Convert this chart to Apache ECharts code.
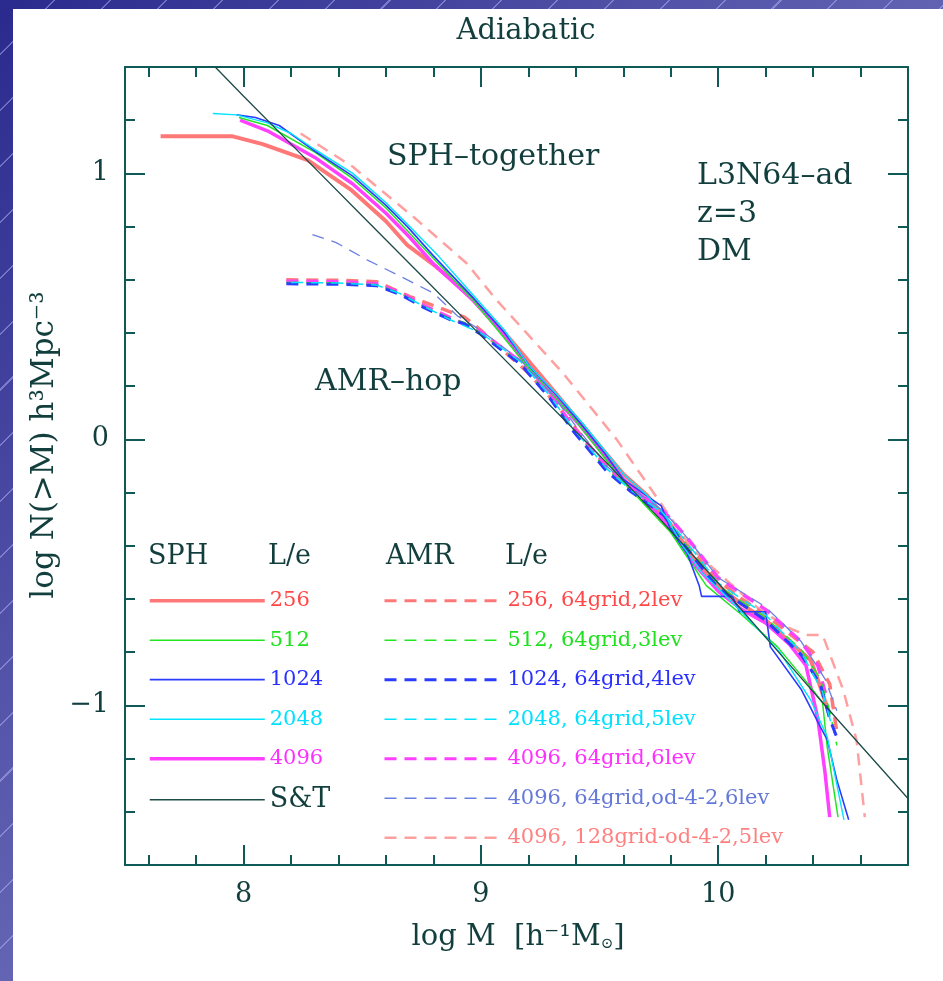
<!DOCTYPE html>
<html><head><meta charset="utf-8">
<script src="https://cdn.jsdelivr.net/npm/echarts@6/dist/echarts.min.js"></script>
<style>
html,body{margin:0;padding:0;}
body{width:943px;height:981px;overflow:hidden;position:relative;
background:
 repeating-linear-gradient(135deg, rgba(255,255,255,0) 0px, rgba(255,255,255,0) 38px, rgba(190,190,255,0.45) 38px, rgba(190,190,255,0.45) 39.5px),
 linear-gradient(135deg,#2a2a8e 0%,#5e5eb0 45%,#9494d0 100%);}
#panel{position:absolute;left:13px;top:9px;width:930px;height:972px;background:#fff;}
#chart{position:absolute;left:0;top:0;width:943px;height:981px;}
</style></head>
<body><div id="panel"></div><div id="chart"></div>
<script>
// ---- axis ranges / ticks ----
const xMin = 7.5, xMax = 10.8, yMin = -1.6, yMax = 1.4;
const xMajor = [8, 9, 10];
const xMinor = [7.6, 7.8, 8.2, 8.4, 8.6, 8.8, 9.2, 9.4, 9.6, 9.8, 10.2, 10.4, 10.6];
const yMajor = [-1, 0, 1];
const yMinor = [-1.4, -1.2, -0.8, -0.6, -0.4, -0.2, 0.2, 0.4, 0.6, 0.8, 1.2];

// ---- data ----
const stX = [7.88, 8.0, 8.25, 8.5, 8.75, 9.0, 9.25, 9.5, 9.75, 10.0, 10.25, 10.5, 10.8];
const stY = [1.40, 1.29, 1.065, 0.84, 0.615, 0.39, 0.165, -0.06, -0.295, -0.54, -0.795, -1.05, -1.35];

const sph256X = [7.65, 7.95, 8.08, 8.27, 8.45, 8.6, 8.69, 8.81, 8.94, 9.12, 9.3, 9.45, 9.6, 9.7, 9.8, 9.9, 10.0, 10.1, 10.2, 10.3, 10.39, 10.415, 10.46];
const sph256Y = [1.14, 1.14, 1.11, 1.05, 0.94, 0.82, 0.73, 0.65, 0.55, 0.38, 0.19, 0.03, -0.13, -0.21, -0.32, -0.45, -0.55, -0.62, -0.68, -0.76, -0.83, -0.89, -1.01];

const sph512X = [7.98, 8.1, 8.3, 8.46, 8.6, 8.8, 8.97, 9.2, 9.4, 9.6, 9.8, 9.95, 10.1, 10.25, 10.38, 10.44, 10.46, 10.505];
const sph512Y = [1.21, 1.18, 1.08, 0.98, 0.87, 0.68, 0.52, 0.27, 0.07, -0.16, -0.35, -0.55, -0.66, -0.78, -0.92, -0.99, -1.16, -1.42];

const sph1024X = [7.97, 8.05, 8.15, 8.29, 8.46, 8.6, 8.69, 8.8, 8.97, 9.1, 9.21, 9.32, 9.42, 9.52, 9.6, 9.68, 9.76, 9.8, 9.87, 9.92, 9.93, 10.06, 10.09, 10.2, 10.22, 10.35, 10.43, 10.46, 10.5, 10.55];
const sph1024Y = [1.22, 1.21, 1.18, 1.09, 0.99, 0.88, 0.80, 0.69, 0.53, 0.40, 0.27, 0.165, 0.06, -0.05, -0.15, -0.20, -0.25, -0.34, -0.43, -0.55, -0.59, -0.59, -0.648, -0.648, -0.78, -0.94, -1.08, -1.13, -1.28, -1.43];

const sph2048X = [7.87, 7.97, 8.1, 8.2, 8.3, 8.46, 8.6, 8.7, 8.82, 8.97, 9.1, 9.2, 9.32, 9.43, 9.52, 9.6, 9.7, 9.78, 9.85, 9.93, 10.0, 10.1, 10.26, 10.39, 10.46, 10.53];
const sph2048Y = [1.225, 1.22, 1.19, 1.15, 1.09, 1.0, 0.89, 0.80, 0.69, 0.54, 0.41, 0.28, 0.17, 0.06, -0.04, -0.13, -0.21, -0.29, -0.40, -0.50, -0.56, -0.65, -0.80, -0.98, -1.12, -1.43];

const sph4096X = [7.985, 8.1, 8.3, 8.46, 8.6, 8.7, 8.8, 8.97, 9.1, 9.2, 9.32, 9.42, 9.52, 9.6, 9.7, 9.8, 9.9, 10.0, 10.1, 10.2, 10.3, 10.37, 10.42, 10.45, 10.47];
const sph4096Y = [1.20, 1.16, 1.06, 0.96, 0.85, 0.76, 0.66, 0.52, 0.39, 0.27, 0.15, 0.05, -0.06, -0.15, -0.23, -0.34, -0.47, -0.57, -0.64, -0.69, -0.77, -0.85, -1.05, -1.25, -1.42];

const amr256X = [8.18, 8.4, 8.56, 8.7, 8.81, 8.93, 9.0, 9.1, 9.2, 9.3, 9.4, 9.5, 9.6, 9.7, 9.8, 9.9, 10.0, 10.1, 10.2, 10.3, 10.4, 10.47, 10.5];
const amr256Y = [0.60, 0.598, 0.593, 0.537, 0.50, 0.46, 0.41, 0.33, 0.25, 0.15, 0.04, -0.07, -0.16, -0.24, -0.33, -0.43, -0.53, -0.60, -0.66, -0.73, -0.80, -0.92, -1.10];

const amr512X = [8.18, 8.4, 8.56, 8.66, 8.76, 8.87, 8.93, 9.0, 9.17, 9.29, 9.39, 9.53, 9.63, 9.77, 9.85, 10.0, 10.2, 10.35, 10.43, 10.47, 10.5];
const amr512Y = [0.59, 0.588, 0.582, 0.55, 0.50, 0.455, 0.44, 0.40, 0.285, 0.16, 0.035, -0.115, -0.19, -0.28, -0.38, -0.55, -0.67, -0.79, -0.90, -1.02, -1.15];

const amr1024X = [8.18, 8.4, 8.56, 8.66, 8.76, 8.87, 8.93, 9.0, 9.17, 9.29, 9.39, 9.53, 9.63, 9.77, 9.85, 10.0, 10.2, 10.35, 10.43, 10.47, 10.5];
const amr1024Y = [0.585, 0.583, 0.578, 0.545, 0.495, 0.45, 0.435, 0.395, 0.28, 0.155, 0.03, -0.12, -0.195, -0.285, -0.39, -0.56, -0.68, -0.81, -0.92, -1.05, -1.12];

const amr2048X = [8.2, 8.4, 8.56, 8.66, 8.76, 8.87, 9.0, 9.17, 9.29, 9.39, 9.53, 9.63, 9.77, 9.87, 10.0, 10.2, 10.35, 10.44, 10.48];
const amr2048Y = [0.59, 0.588, 0.58, 0.548, 0.50, 0.45, 0.40, 0.29, 0.165, 0.04, -0.11, -0.19, -0.28, -0.39, -0.54, -0.66, -0.80, -0.95, -1.08];

const amr4096X = [8.18, 8.4, 8.56, 8.66, 8.76, 8.87, 9.0, 9.17, 9.29, 9.39, 9.53, 9.63, 9.77, 9.87, 10.0, 10.2, 10.35, 10.42, 10.46];
const amr4096Y = [0.595, 0.593, 0.585, 0.552, 0.503, 0.458, 0.405, 0.29, 0.17, 0.045, -0.105, -0.18, -0.27, -0.37, -0.52, -0.64, -0.76, -0.85, -0.98];

const amrOdX = [8.29, 8.39, 8.52, 8.645, 8.8, 8.9, 9.0, 9.17, 9.3, 9.4, 9.53, 9.63, 9.77, 9.87, 10.0, 10.2, 10.35, 10.45, 10.5];
const amrOdY = [0.77, 0.74, 0.675, 0.62, 0.55, 0.465, 0.41, 0.295, 0.17, 0.05, -0.10, -0.18, -0.27, -0.37, -0.52, -0.63, -0.76, -0.90, -1.02];

const amr128X = [8.24, 8.46, 8.715, 8.94, 9.066, 9.347, 9.572, 9.768, 9.895, 10.035, 10.176, 10.3, 10.37, 10.44, 10.527, 10.583, 10.618];
const amr128Y = [1.15, 1.025, 0.837, 0.662, 0.524, 0.248, 0.0, -0.253, -0.416, -0.529, -0.641, -0.71, -0.735, -0.735, -0.942, -1.13, -1.42];

// ---- labels ----
const sphNames = ['256', '512', '1024', '2048', '4096', 'S&T'];
const amrNames = ['256, 64grid,2lev', '512, 64grid,3lev', '1024, 64grid,4lev', '2048, 64grid,5lev', '4096, 64grid,6lev', '4096, 64grid,od-4-2,6lev', '4096, 128grid-od-4-2,5lev'];

// ---- styling ----
const AX = '#0f5a56';
const TXT = '#123f3d';
const FONT = '"DejaVu Serif", "Liberation Serif", serif';
const C = {salmon:'#ff7878', green:'#22e622', blue:'#2a3cff', cyan:'#00e4ff', magenta:'#ff40ff', st:'#1d4b48', od:'#6a80e0', pink:'#ffa0a0'};
const TC = {salmon:'#ff4848', green:'#20e020', blue:'#2a30ff', cyan:'#00e0ff', magenta:'#ff30ff', st:'#123f3d', od:'#6478d8', pink:'#ff8080'};
const DASH = [12, 8];

function pairs(xs, ys) { return xs.map((x, i) => [x, ys[i]]); }
function ser(name, xs, ys, color, width, dashed, z) {
  return {name: name, type: 'line', data: pairs(xs, ys), xAxisIndex: 0, yAxisIndex: 0,
    symbol: 'none', silent: true, z: z,
    lineStyle: {color: color, width: width, type: dashed ? DASH : 'solid'},
    itemStyle: {color: color}};
}

const series = [
  ser(amrNames[6], amr128X, amr128Y, C.pink, 2.5, true, 2),
  ser(sphNames[0], sph256X, sph256Y, C.salmon, 4, false, 3),
  ser(amrNames[0], amr256X, amr256Y, C.salmon, 3.5, true, 3),
  ser(sphNames[4], sph4096X, sph4096Y, C.magenta, 3.5, false, 4),
  ser(amrNames[4], amr4096X, amr4096Y, C.magenta, 3.5, true, 4),
  ser(sphNames[1], sph512X, sph512Y, C.green, 1.5, false, 5),
  ser(amrNames[1], amr512X, amr512Y, C.green, 1.5, true, 5),
  ser(sphNames[2], sph1024X, sph1024Y, C.blue, 1.6, false, 6),
  ser(amrNames[2], amr1024X, amr1024Y, C.blue, 3, true, 6),
  ser(sphNames[3], sph2048X, sph2048Y, C.cyan, 1.4, false, 7),
  ser(amrNames[3], amr2048X, amr2048Y, C.cyan, 1.5, true, 7),
  ser(amrNames[5], amrOdX, amrOdY, C.od, 1.3, true, 7),
  ser(sphNames[5], stX, stY, C.st, 1.3, false, 8)
];

function xAx(pos, vals, len, showLabel, showLine) {
  return {type: 'value', position: pos, min: xMin, max: xMax, gridIndex: 0,
    axisLine: {show: showLine, onZero: false, lineStyle: {color: AX, width: 2}},
    axisTick: {show: true, inside: true, length: len, customValues: vals, lineStyle: {color: AX, width: 2}},
    axisLabel: {show: showLabel, customValues: vals, margin: 16, color: TXT, fontFamily: FONT, fontSize: 27},
    splitLine: {show: false}, minorTick: {show: false}};
}
function yAx(pos, vals, len, showLabel, showLine) {
  return {type: 'value', position: pos, min: yMin, max: yMax, gridIndex: 0,
    axisLine: {show: showLine, onZero: false, lineStyle: {color: AX, width: 2}},
    axisTick: {show: true, inside: true, length: len, customValues: vals, lineStyle: {color: AX, width: 2}},
    axisLabel: {show: showLabel, customValues: vals, margin: 16, color: TXT, fontFamily: FONT, fontSize: 27,
      formatter: v => (v < 0 ? '\u2212' + (-v) : String(v))},
    splitLine: {show: false}, minorTick: {show: false}};
}

function legendData(names, keys, widths, dashed, sizes) {
  return names.map((n, i) => ({
    name: n,
    itemStyle: {color: 'rgba(0,0,0,0)', borderColor: 'rgba(0,0,0,0)', borderWidth: 0},
    lineStyle: {color: C[keys[i]], width: widths[i], type: dashed ? DASH : 'solid'},
    textStyle: {color: TC[keys[i]], fontSize: sizes ? sizes[i] : 21}
  }));
}
const legendCommon = {orient: 'vertical', top: 588.7, itemHeight: 24, itemGap: 15.5, padding: 0,
  selectedMode: false, textStyle: {fontFamily: FONT, fontSize: 21, lineHeight: 24}};

function txt(x, y, s, size, extra) {
  return Object.assign({type: 'text', x: x, y: y, silent: true, z: 50,
    style: {text: s, fontFamily: FONT, fontSize: size, fill: TXT, align: 'left', verticalAlign: 'middle'}}, extra || {});
}

const option = {
  backgroundColor: 'transparent',
  animation: false,
  grid: {left: 125, right: 35, top: 67, bottom: 116, containLabel: false},
  xAxis: [xAx('bottom', xMajor, 20, true, true), xAx('bottom', xMinor, 10, false, false),
          xAx('top', xMajor, 20, false, true), xAx('top', xMinor, 10, false, false)],
  yAxis: [yAx('left', yMajor, 20, true, true), yAx('left', yMinor, 10, false, false),
          yAx('right', yMajor, 20, false, true), yAx('right', yMinor, 10, false, false)],
  legend: [
    Object.assign({}, legendCommon, {left: 148, itemWidth: 115,
      data: legendData(sphNames, ['salmon', 'green', 'blue', 'cyan', 'magenta', 'st'], [3.5, 1.5, 1.8, 1.5, 3.5, 1.5], false, [21, 21, 21, 21, 21, 27])}),
    Object.assign({}, legendCommon, {left: 383, itemWidth: 118,
      data: legendData(amrNames, ['salmon', 'green', 'blue', 'cyan', 'magenta', 'od', 'pink'], [3, 1.5, 3, 1.5, 3, 1.5, 2.5], true, null)})
  ],
  graphic: [
    txt(526, 31, 'Adiabatic', 28, {style: {text: 'Adiabatic', fontFamily: FONT, fontSize: 29, fill: TXT, align: 'center', verticalAlign: 'middle'}}),
    txt(387, 157, 'SPH\u2013together', 30),
    txt(315, 382, 'AMR\u2013hop', 30),
    txt(697, 176, 'L3N64\u2013ad', 30),
    txt(697, 214, 'z=3', 30),
    txt(697, 252, 'DM', 30),
    txt(148, 557, 'SPH', 27),
    txt(268, 557, 'L/e', 27),
    txt(386, 557, 'AMR', 27),
    txt(505, 557, 'L/e', 27),
    {type: 'text', x: 518, y: 937, silent: true, z: 50,
     style: {text: 'log M  [h\u207B\u00B9M{sub|\u2299}]', fontFamily: FONT, fontSize: 29, fill: TXT, align: 'center', verticalAlign: 'middle',
       rich: {sub: {fontFamily: FONT, fontSize: 15, fill: TXT, verticalAlign: 'bottom', lineHeight: 22}}}},
    {type: 'text', x: 45, y: 445, rotation: Math.PI / 2, silent: true, z: 50,
     style: {text: 'log N(>M) h\u00B3Mpc\u207B\u00B3', fontFamily: FONT, fontSize: 31, fill: TXT, align: 'center', verticalAlign: 'middle'}}
  ],
  series: series
};

const chart = echarts.init(document.getElementById('chart'), null, {renderer: 'canvas'});
chart.setOption(option);
</script>
</body></html>
